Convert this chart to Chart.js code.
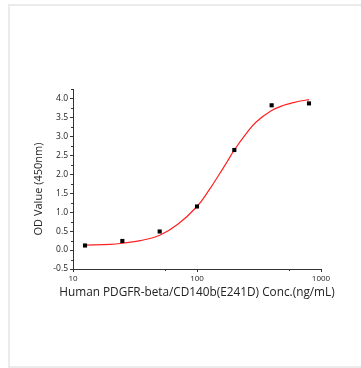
<!DOCTYPE html>
<html>
<head>
<meta charset="utf-8">
<script src="https://cdn.jsdelivr.net/npm/chart.js@4"></script>
<style>
  html, body { margin: 0; padding: 0; background: #fff; }
  #wrap { position: relative; width: 361px; height: 368px; overflow: hidden; }
  #frame { position: absolute; left: 8px; top: 4px; width: 400px; height: 364px; border: 2px solid #ebebeb; box-sizing: border-box; }
  canvas { position: absolute; left: 0; top: 0; }
</style>
</head>
<body>
<div id="wrap">
  <div id="frame"></div>
  <canvas id="chartContainer" width="361" height="368"></canvas>
</div>
<script>
// measured points
var pointConc = [12.5, 25, 50, 100, 200, 400, 800];
var pointOD = [0.12, 0.24, 0.49, 1.15, 2.64, 3.82, 3.87];

// fitted curve
var fitConc = [12.5, 20, 25, 35, 50, 70, 100, 125, 150, 175, 200, 250, 300, 400, 500, 600, 700, 800];
var fitOD = [0.13, 0.15, 0.18, 0.25, 0.39, 0.68, 1.15, 1.58, 1.98, 2.33, 2.64, 3.08, 3.38, 3.68, 3.82, 3.89, 3.94, 3.97];

var xTicks = [10, 55, 100, 550, 1000];
var xLabels = [10, 100, 1000];

var xTitle = 'Human PDGFR-beta/CD140b(E241D) Conc.(ng/mL)';
var yTitle = 'OD Value (450nm)';

var fontName = "'Open Sans', 'Liberation Sans', sans-serif";

function toXY(xs, ys) {
    var out = [];
    for (var i = 0; i < xs.length; i++) {
        out.push({ x: xs[i], y: ys[i] });
    }
    return out;
}

function isHalf(v) {
    return Math.abs(v * 2 - Math.round(v * 2)) < 1e-6;
}

// outward tick marks (major longer than minor) and the axis titles,
// drawn here so the long x title is not squeezed to the plot width
var axisExtras = {
    id: 'axisExtras',
    afterDraw: function (chart) {
        var ctx = chart.ctx;
        var xs = chart.scales.x, ys = chart.scales.y;
        ctx.save();
        ctx.strokeStyle = '#333';
        ctx.lineWidth = 1;
        ctx.beginPath();
        ys.ticks.forEach(function (t) {
            var py = Math.round(ys.getPixelForValue(t.value)) + 0.5;
            var len = isHalf(t.value) ? 3 : 2;
            ctx.moveTo(xs.left, py);
            ctx.lineTo(xs.left - len, py);
        });
        xs.ticks.forEach(function (t) {
            var px = Math.round(xs.getPixelForValue(t.value)) + 0.5;
            var len = xLabels.indexOf(t.value) >= 0 ? 3 : 2;
            ctx.moveTo(px, ys.bottom);
            ctx.lineTo(px, ys.bottom + len);
        });
        ctx.stroke();

        ctx.fillStyle = '#222';
        ctx.textAlign = 'center';
        ctx.textBaseline = 'middle';
        ctx.font = '11.8px ' + fontName;
        ctx.fillText(xTitle, (xs.left + xs.right) / 2, ys.bottom + 24);

        ctx.translate(39, (ys.top + ys.bottom) / 2 + 10);
        ctx.rotate(-Math.PI / 2);
        ctx.font = '11px ' + fontName;
        ctx.fillText(yTitle, 0, 0);
        ctx.restore();
    }
};

var chart = new Chart(document.getElementById('chartContainer'), {
    type: 'scatter',
    data: {
        datasets: [{
            label: 'Fit',
            data: toXY(fitConc, fitOD),
            showLine: true,
            borderColor: '#ff2020',
            borderWidth: 1.2,
            pointRadius: 0,
            tension: 0.4,
            order: 2
        }, {
            label: 'OD',
            data: toXY(pointConc, pointOD),
            pointStyle: 'rect',
            pointRadius: 2.9,
            backgroundColor: '#000',
            borderColor: '#000',
            borderWidth: 0,
            order: 1
        }]
    },
    options: {
        responsive: false,
        animation: false,
        layout: { padding: { left: 30, top: 89, right: 40, bottom: 68 } },
        plugins: { legend: { display: false }, tooltip: { enabled: false } },
        scales: {
            x: {
                type: 'logarithmic',
                min: 10,
                max: 1000,
                afterBuildTicks: function (scale) {
                    scale.ticks = xTicks.map(function (v) { return { value: v }; });
                },
                afterFit: function (scale) { scale.height = 31; },
                grid: { display: false, drawTicks: false },
                border: { display: true, color: '#333', width: 1 },
                ticks: {
                    autoSkip: false,
                    maxRotation: 0,
                    padding: 5,
                    color: '#222',
                    font: { family: fontName, size: 8 },
                    callback: function (v) { return xLabels.indexOf(v) >= 0 ? String(v) : ''; }
                }
            },
            y: {
                min: -0.5,
                max: 4.25,
                afterFit: function (scale) { scale.width = 43; },
                grid: { display: false, drawTicks: false },
                border: { display: true, color: '#333', width: 1 },
                ticks: {
                    stepSize: 0.25,
                    autoSkip: false,
                    padding: 5,
                    color: '#222',
                    font: { family: fontName, size: 8.5 },
                    callback: function (v) { return isHalf(v) ? v.toFixed(1) : ''; }
                }
            }
        }
    },
    plugins: [axisExtras]
});
</script>
</body>
</html>
